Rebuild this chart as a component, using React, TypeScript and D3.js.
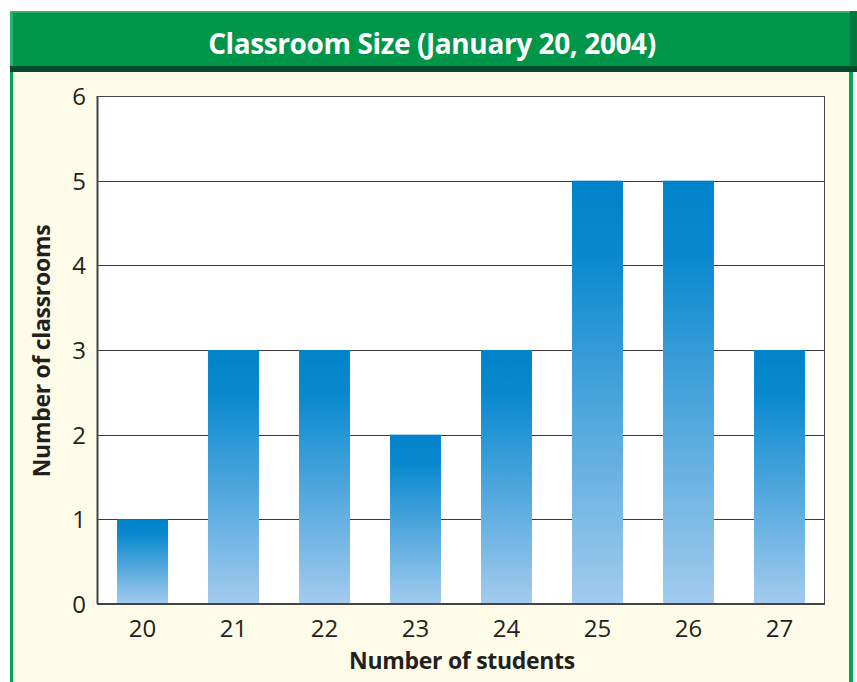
import { useEffect, useRef } from "react"
import * as d3 from "d3"

const categories = ["20", "21", "22", "23", "24", "25", "26", "27"]
const classrooms = [1, 3, 3, 2, 3, 5, 5, 3]
const yTicks = [0, 1, 2, 3, 4, 5, 6]
const title = "Classroom Size (January 20, 2004)"
const xTitle = "Number of students"
const yTitle = "Number of classrooms"

export default function App() {
  const svgRef = useRef<SVGSVGElement>(null)

  useEffect(() => {
    if (!svgRef.current) return
    const W = 857
    const H = 682
    const margin = { top: 96, right: 32, bottom: 78, left: 97 }
    const width = W - margin.left - margin.right
    const height = H - margin.top - margin.bottom

    const root = d3.select(svgRef.current)
    root.selectAll("*").remove()
    root.attr("width", W).attr("height", H)

    const font = "'Open Sans', 'Noto Sans', sans-serif"

    // gradient for bars
    const defs = root.append("defs")
    const grad = defs
      .append("linearGradient")
      .attr("id", "barGrad")
      .attr("x1", 0)
      .attr("y1", 0)
      .attr("x2", 0)
      .attr("y2", 1)
    grad.append("stop").attr("offset", "0%").attr("stop-color", "#0083CA")
    grad.append("stop").attr("offset", "18%").attr("stop-color", "#0A89CF")
    grad.append("stop").attr("offset", "100%").attr("stop-color", "#A3CBEE")

    // frame
    root.append("rect").attr("width", W).attr("height", H).attr("fill", "#ffffff")
    root.append("rect").attr("x", 10).attr("y", 11).attr("width", 843).attr("height", H - 11).attr("fill", "#00A651")
    root.append("rect").attr("x", 13).attr("y", 72).attr("width", 836).attr("height", H - 72).attr("fill", "#FEFCE8")
    // header
    root.append("rect").attr("x", 10).attr("y", 11).attr("width", 847).attr("height", 61).attr("fill", "#009649")
    root.append("rect").attr("x", 10).attr("y", 11).attr("width", 847).attr("height", 2).attr("fill", "#2EB36C")
    root.append("rect").attr("x", 10).attr("y", 11).attr("width", 3).attr("height", 61).attr("fill", "#2EB36C")
    root.append("rect").attr("x", 850).attr("y", 11).attr("width", 7).attr("height", 61).attr("fill", "#007A3C")
    root.append("rect").attr("x", 10).attr("y", 66).attr("width", 847).attr("height", 6).attr("fill", "#004A2C")

    root
      .append("text")
      .attr("x", 432)
      .attr("y", 54)
      .attr("text-anchor", "middle")
      .attr("fill", "#ffffff")
      .style("font-family", font)
      .style("font-weight", 700)
      .style("font-size", "28px")
      .style("letter-spacing", "-0.4px")
      .text(title)

    const svg = root.append("g").attr("transform", `translate(${margin.left},${margin.top})`)

    const x = d3.scaleBand().domain(categories).range([0, width]).paddingInner(0.44).paddingOuter(0.22)
    const y = d3.scaleLinear().domain([0, 6]).range([height, 0])

    svg.append("rect").attr("width", width).attr("height", height).attr("fill", "#ffffff")

    // gridlines
    svg
      .selectAll(".grid")
      .data(yTicks.filter((d) => d > 0 && d < 6))
      .enter()
      .append("line")
      .attr("x1", 0)
      .attr("x2", width)
      .attr("y1", (d) => Math.round(y(d)) + 0.5)
      .attr("y2", (d) => Math.round(y(d)) + 0.5)
      .attr("stroke", "#3a3a3a")
      .attr("stroke-width", 1)

    // bars
    svg
      .selectAll(".bar")
      .data(classrooms)
      .enter()
      .append("rect")
      .attr("x", (_, i) => x(categories[i]) as number)
      .attr("y", (d) => y(d))
      .attr("width", x.bandwidth())
      .attr("height", (d) => height - y(d))
      .attr("fill", "url(#barGrad)")

    // plot border
    svg
      .append("rect")
      .attr("x", 0.5)
      .attr("y", 0.5)
      .attr("width", width - 1)
      .attr("height", height)
      .attr("fill", "none")
      .attr("stroke", "#444")
      .attr("stroke-width", 1)
    svg
      .append("line")
      .attr("x1", 0)
      .attr("x2", width)
      .attr("y1", height)
      .attr("y2", height)
      .attr("stroke", "#444")
      .attr("stroke-width", 2)
    svg
      .append("line")
      .attr("x1", 0.5)
      .attr("x2", 0.5)
      .attr("y1", 0)
      .attr("y2", height)
      .attr("stroke", "#444")
      .attr("stroke-width", 2)

    // y tick labels
    svg
      .selectAll(".ytick")
      .data(yTicks)
      .enter()
      .append("text")
      .attr("x", -11)
      .attr("y", (d) => y(d) + 9)
      .attr("text-anchor", "end")
      .attr("fill", "#231F20")
      .style("font-family", font)
      .style("font-size", "24px")
      .text((d) => d)

    // x tick labels
    svg
      .selectAll(".xtick")
      .data(categories)
      .enter()
      .append("text")
      .attr("x", (d) => (x(d) as number) + x.bandwidth() / 2)
      .attr("y", height + 33)
      .attr("text-anchor", "middle")
      .attr("fill", "#231F20")
      .style("font-family", font)
      .style("font-size", "24px")
      .text((d) => d)

    // axis titles
    svg
      .append("text")
      .attr("x", width / 2 + 1)
      .attr("y", height + 65)
      .attr("text-anchor", "middle")
      .attr("fill", "#231F20")
      .style("font-family", font)
      .style("font-weight", 700)
      .style("font-size", "23px")
      .style("letter-spacing", "-0.3px")
      .text(xTitle)

    svg
      .append("text")
      .attr("transform", `translate(-47,${height / 2 + 1}) rotate(-90)`)
      .attr("text-anchor", "middle")
      .attr("fill", "#231F20")
      .style("font-family", font)
      .style("font-weight", 700)
      .style("font-size", "23px")
      .style("letter-spacing", "-0.3px")
      .text(yTitle)
  }, [])

  return (
    <div style={{ position: "absolute", left: 0, top: 0 }}>
      <svg ref={svgRef}></svg>
    </div>
  )
}
